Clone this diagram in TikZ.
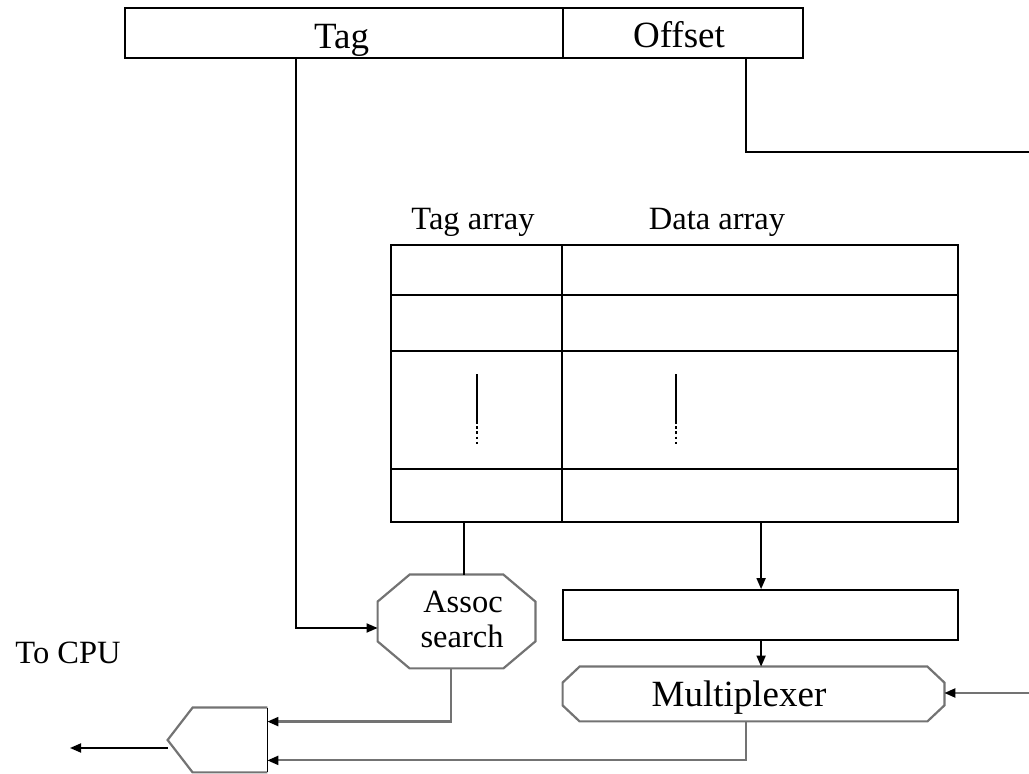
\documentclass[tikz,border=0pt]{standalone}
\usepackage{fontspec}
\setmainfont{Liberation Serif}
\usetikzlibrary{arrows.meta,fit,calc}

% octagonal outline around a (borderless) node: #2 node, #3 chamfer in x, #4 chamfer in y
\newcommand\chamferoutline[4][]{%
  \draw[#1] ($(#2.north west)+(#3,0)$) -- ($(#2.north east)+(-#3,0)$)
    -- ($(#2.north east)+(0,#4)$) -- ($(#2.south east)+(0,-#4)$)
    -- ($(#2.south east)+(-#3,0)$) -- ($(#2.south west)+(#3,0)$)
    -- ($(#2.south west)+(0,-#4)$) -- ($(#2.north west)+(0,#4)$) -- cycle;}

\begin{document}
\begin{tikzpicture}[x=0.5pt,y=-0.5pt,
  wire/.style={line width=0.9pt},
  thin wire/.style={line width=1.1pt, draw=black!55},
  arr/.style={wire, -{Triangle[length=5.5pt,width=4.5pt,color=black]}},
  thin arr/.style={thin wire, -{Triangle[length=5.5pt,width=4.5pt,color=black]}},
  field/.style={draw, line width=0.9pt, inner sep=0pt, fit={#1}},
  frame/.style={inner sep=0pt, fit={#1}},
  lbl/.style={anchor=base, inner sep=0pt, font=\fontsize{16.25}{18}\selectfont},
  biglbl/.style={lbl, font=\fontsize{18.5}{21}\selectfont}]
\useasboundingbox (0,0) rectangle (1029,774);

% address register
\node[field={(125,8)(563,58)}] (tagfield) {};
\node[field={(563,8)(803,58)}] (offfield) {};
\node[biglbl] (tagtxt) at (341.5,49) {Tag};
\node[biglbl] (offtxt) at (679,48) {Offset};

% tag and data arrays
\node[lbl] (tagarr) at (473,230) {Tag array};
\node[lbl] (dataarr) at (717,230) {Data array};
\node[field={(391,245)(958,522)}] (table) {};
\draw[wire] ($(table.north west)+(172,0)$) -- ($(table.south west)+(172,0)$);
\foreach \r in {51,107,225}
  \draw[wire] ($(table.north west)+(0,\r)$) -- ($(table.north east)+(0,\r)$);
\foreach \c in {87,286} {
  \draw[wire] ($(table.north west)+(\c,130)$) -- ($(table.north west)+(\c,177)$);
  \draw[wire, dash pattern=on 1.3pt off 1.3pt]
    ($(table.north west)+(\c,177)$) -- ($(table.north west)+(\c,200)$);
}

% associative search unit
\node[frame={(378,575)(535,668)}] (assoc) {};
\chamferoutline[thin wire]{assoc}{32}{27}
\node[lbl] (assoc1) at (463,613) {Assoc};
\node[lbl] (assoc2) at (462,648) {search};

% data buffer and multiplexer
\node[field={(563,590)(958,640)}] (buffer) {};
\node[frame={(563,667)(944,721)}] (mux) {};
\chamferoutline[thin wire]{mux}{17}{16}
\node[biglbl] (muxtxt) at (739,707) {Multiplexer};

% output gate
\node[frame={(168,708)(267,772)}] (gate) {};
\draw[thin wire] (gate.north east) -- ($(gate.north west)+(25,0)$) -- (gate.west)
  -- ($(gate.south west)+(25,0)$) -- (gate.south east);
\draw[wire] (gate.north east) -- (gate.south east);
\node[lbl] (cpu) at (68,664) {To CPU};

% connectors
\draw[arr] ($(tagfield.south west)+(172,0)$) |- ($(assoc.west)+(0,6.5)$);
\coordinate (offend) at (1029,152);
\draw[wire] ($(offfield.south west)+(184,0)$) |- (offend);
\draw[wire] ($(table.south west)+(74,0)$) coordinate (ts) -- (ts |- assoc.north);
\draw[arr] ($(table.south west)+(371,0)$) coordinate (ds) -- (ds |- buffer.north);
\draw[arr] ($(buffer.south west)+(199,0)$) coordinate (bs) -- (bs |- mux.north);
\coordinate (selin) at (1029,693);
\draw[thin arr] (selin) -- (selin -| mux.east);
\draw[thin arr] ($(assoc.south west)+(73,0)$) |- ($(gate.north east)+(0,14)$);
\draw[thin arr] ($(mux.south west)+(183,0)$) |- ($(gate.south east)+(0,-12)$);
\coordinate (gateout) at ($(gate.west)+(0,8)$);
\coordinate (cpuend) at (70,748);
\draw[arr] (gateout) -- (cpuend);
\end{tikzpicture}
\end{document}
